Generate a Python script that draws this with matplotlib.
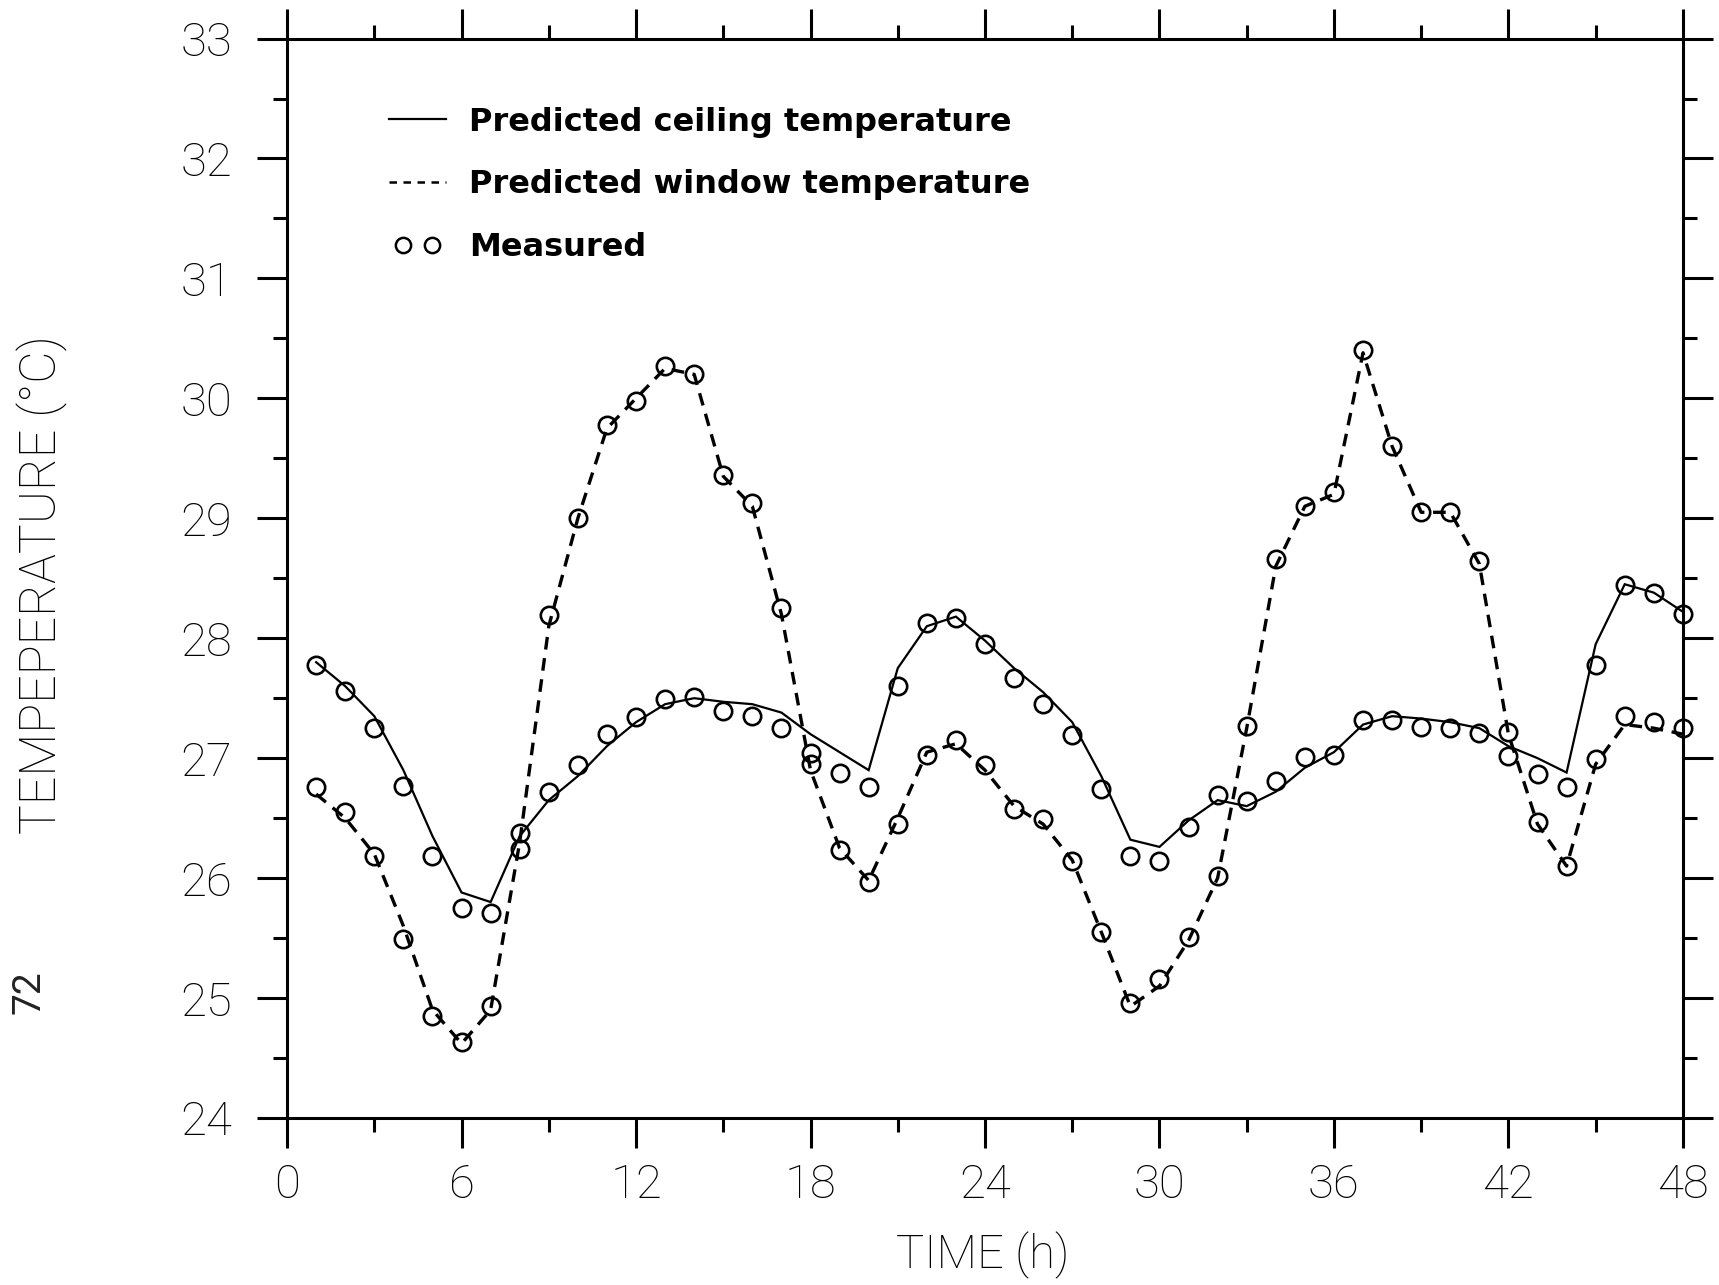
import matplotlib
matplotlib.use("Agg")
import matplotlib.pyplot as plt
from matplotlib.lines import Line2D
from matplotlib.legend_handler import HandlerLine2D
from matplotlib.ticker import MultipleLocator, FixedLocator

# ---------------- data ----------------
hours = list(range(1, 49))

ceiling_pred = [27.80, 27.60, 27.35, 26.90, 26.35, 25.88, 25.80, 26.35, 26.65, 26.85,
                27.10, 27.30, 27.45, 27.50, 27.47, 27.45, 27.38, 27.20, 27.05, 26.90,
                27.75, 28.10, 28.18, 27.98, 27.75, 27.55, 27.30, 26.85, 26.32, 26.26,
                26.48, 26.65, 26.60, 26.72, 26.92, 27.05, 27.28, 27.35, 27.33, 27.30,
                27.25, 27.10, 27.00, 26.88, 27.95, 28.45, 28.38, 28.22]

window_pred = [26.70, 26.50, 26.20, 25.60, 24.90, 24.62, 24.90, 26.30, 28.10, 29.00,
               29.75, 30.00, 30.25, 30.20, 29.35, 29.10, 28.20, 26.90, 26.25, 25.98,
               26.50, 27.05, 27.12, 26.90, 26.60, 26.45, 26.15, 25.55, 24.93, 25.10,
               25.48, 26.00, 27.25, 28.60, 29.10, 29.20, 30.38, 29.60, 29.05, 29.05,
               28.62, 27.20, 26.45, 26.10, 26.95, 27.28, 27.25, 27.20]

ceiling_meas = [27.78, 27.56, 27.25, 26.77, 26.18, 25.75, 25.71, 26.38, 26.72, 26.94,
                27.20, 27.34, 27.49, 27.51, 27.39, 27.35, 27.25, 27.04, 26.88, 26.76,
                27.60, 28.13, 28.17, 27.95, 27.67, 27.45, 27.19, 26.74, 26.18, 26.14,
                26.43, 26.69, 26.64, 26.81, 27.01, 27.03, 27.32, 27.32, 27.26, 27.25,
                27.21, 27.02, 26.87, 26.76, 27.78, 28.44, 28.38, 28.20]

window_meas = [26.76, 26.55, 26.18, 25.49, 24.85, 24.63, 24.93, 26.24, 28.19, 29.00,
               29.78, 29.98, 30.27, 30.20, 29.36, 29.13, 28.25, 26.95, 26.23, 25.97,
               26.45, 27.03, 27.15, 26.94, 26.58, 26.49, 26.14, 25.55, 24.96, 25.16,
               25.51, 26.02, 27.27, 28.66, 29.10, 29.22, 30.40, 29.60, 29.05, 29.05,
               28.64, 27.22, 26.47, 26.10, 26.99, 27.35, 27.30, 27.25]

x_ticks = [0, 6, 12, 18, 24, 30, 36, 42, 48]
y_ticks = [24, 25, 26, 27, 28, 29, 30, 31, 32, 33]

legend_labels = ["Predicted ceiling temperature",
                 "Predicted window temperature",
                 "Measured"]
x_label = "TIME (h)"
y_label = "TEMPEPERATURE (°C)"

# ---------------- figure ----------------
thin_font = ["Roboto", "DejaVu Sans"]

fig = plt.figure(figsize=(17.19, 12.85), dpi=100)
fig.patch.set_facecolor("white")
ax = fig.add_axes([0.167, 0.130, 0.812, 0.840])

ax.plot(hours, ceiling_pred, color="black", lw=1.6, solid_joinstyle="miter")
ax.plot(hours, window_pred, color="black", lw=2.4, dashes=(3.8, 2.6))
for meas in (ceiling_meas, window_meas):
    ax.plot(hours, meas, ls="none", marker="o", ms=12.5, mfc="none",
            mec="black", mew=1.9, clip_on=False)

ax.set_xlim(0, 48)
ax.set_ylim(24, 33)
ax.xaxis.set_major_locator(FixedLocator(x_ticks))
ax.xaxis.set_minor_locator(MultipleLocator(3))
ax.yaxis.set_major_locator(FixedLocator(y_ticks))
ax.yaxis.set_minor_locator(MultipleLocator(0.5))

for sp in ax.spines.values():
    sp.set_linewidth(2.2)

ax.tick_params(which="both", direction="out", top=True, right=True,
               labeltop=False, labelright=False, width=2.2, color="black")
ax.tick_params(which="major", length=21.5)
ax.tick_params(which="minor", length=10)
ax.tick_params(axis="x", which="major", pad=11)
ax.tick_params(axis="y", which="major", pad=18)

for lab in ax.get_xticklabels() + ax.get_yticklabels():
    lab.set_fontfamily(thin_font)
    lab.set_fontweight("light")
    lab.set_fontsize(34)
    lab.set_color("black")

ax.set_xlabel(x_label, fontsize=34, family=thin_font, weight="light")
ax.xaxis.set_label_coords(0.498, -0.127)
ax.xaxis.label.set_va("center")
ax.set_ylabel(y_label, fontsize=36, family=thin_font, weight="light",
              ha="center", va="center")
ax.yaxis.set_label_coords(-0.1755, 0.494)

# legend
meas_handle = Line2D([], [], ls="none", marker="o", ms=11, mfc="none",
                     mec="black", mew=1.8)
handles = [Line2D([], [], color="black", lw=1.6),
           Line2D([], [], color="black", lw=1.8, dashes=(3.0, 2.6)),
           meas_handle]
ax.legend(handles, legend_labels, loc="upper left", bbox_to_anchor=(0.066, 0.937),
          frameon=False, borderpad=0, borderaxespad=0, handlelength=2.4,
          handletextpad=0.42, labelspacing=1.0, numpoints=2,
          handler_map={meas_handle: HandlerLine2D(marker_pad=0.75, numpoints=2)},
          prop=dict(family="DejaVu Sans", weight="bold", size=23))

# page mark at the lower left of the scan
fig.text(0.017, 0.228, "72", rotation=90, fontsize=28, family=thin_font,
         ha="center", va="center", color="#222222")

fig.savefig("out.png", dpi=100)
